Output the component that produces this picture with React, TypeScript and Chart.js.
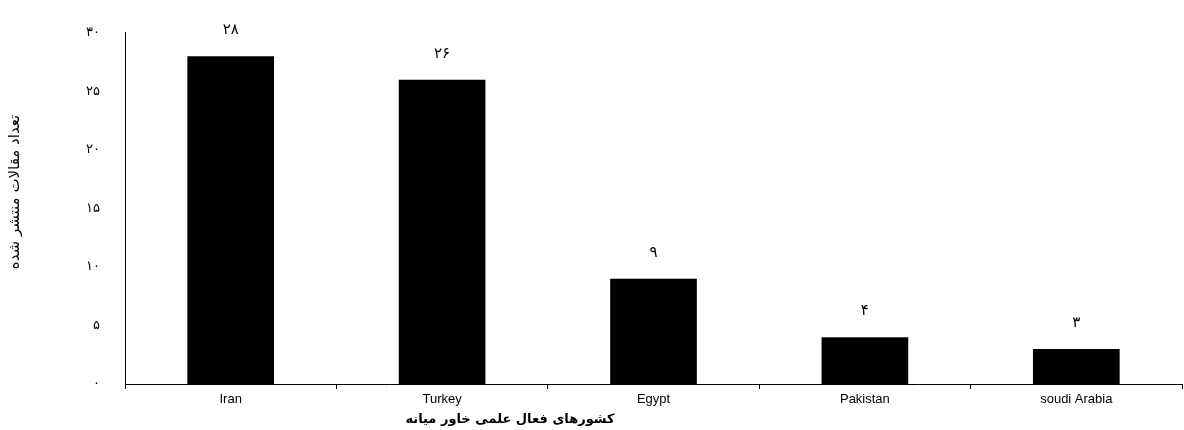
import React, { useEffect, useRef } from "react";
import { Chart, registerables } from "chart.js";

Chart.register(...registerables);

const categories = ["Iran", "Turkey", "Egypt", "Pakistan", "soudi Arabia"];
const values = [28, 26, 9, 4, 3];
const yMax = 30;
const yStep = 5;
const yTitle = "تعداد مقالات منتشر شده";
const xTitle = "کشورهای فعال علمی خاور میانه";

const faDigits = "۰۱۲۳۴۵۶۷۸۹";
const toFa = (n: number | string) => String(n).replace(/\d/g, (d) => faDigits[+d]);

const labelsPlugin = {
  id: "extraText",
  afterDraw(chart: any) {
    const ctx = chart.ctx;
    const meta = chart.getDatasetMeta(0);
    ctx.save();
    ctx.fillStyle = "#000";
    ctx.textAlign = "center";
    ctx.textBaseline = "middle";
    ctx.font = "15px 'DejaVu Sans'";
    meta.data.forEach((bar: any, i: number) => {
      ctx.fillText(toFa(values[i]), bar.x, bar.y - 26);
    });
    ctx.font = "bold 13px 'DejaVu Sans'";
    ctx.fillText(xTitle, 510, 420);
    ctx.translate(15, 192);
    ctx.rotate(-Math.PI / 2);
    ctx.font = "15px 'DejaVu Sans'";
    ctx.fillText(yTitle, 0, 0);
    ctx.restore();
  },
};

export default function App() {
  const ref = useRef<HTMLCanvasElement | null>(null);
  useEffect(() => {
    document.body.style.margin = "0";
    const chart = new Chart(ref.current!, {
      type: "bar",
      data: {
        labels: categories,
        datasets: [
          {
            data: values,
            backgroundColor: "#000",
            barPercentage: 0.41,
            categoryPercentage: 1,
          },
        ],
      },
      options: {
        animation: false,
        responsive: false,
        layout: { padding: { top: 32, right: 2, left: 0, bottom: 0 } },
        plugins: { legend: { display: false }, tooltip: { enabled: false } },
        scales: {
          x: {
            grid: {
              display: true,
              drawOnChartArea: false,
              drawTicks: true,
              tickLength: 5,
              color: "#000",
              offset: true,
            },
            border: { display: true, color: "#000", width: 1 },
            ticks: {
              color: "#000",
              font: { family: "'Liberation Sans'", size: 13 },
              padding: 3,
              maxRotation: 0,
            },
            afterFit: (s: any) => {
              s.height = 46;
            },
          },
          y: {
            min: 0,
            max: yMax,
            grid: { display: false, drawTicks: false },
            border: { display: true, color: "#000", width: 1 },
            ticks: {
              stepSize: yStep,
              color: "#000",
              padding: 25,
              font: { family: "'DejaVu Sans'", size: 13 },
              callback: (v: any) => toFa(v),
            },
            afterFit: (s: any) => {
              s.width = 125;
            },
          },
        },
      },
      plugins: [labelsPlugin],
    });
    return () => chart.destroy();
  }, []);
  return <canvas ref={ref} width={1184} height={430} style={{ display: "block" }} />;
}
